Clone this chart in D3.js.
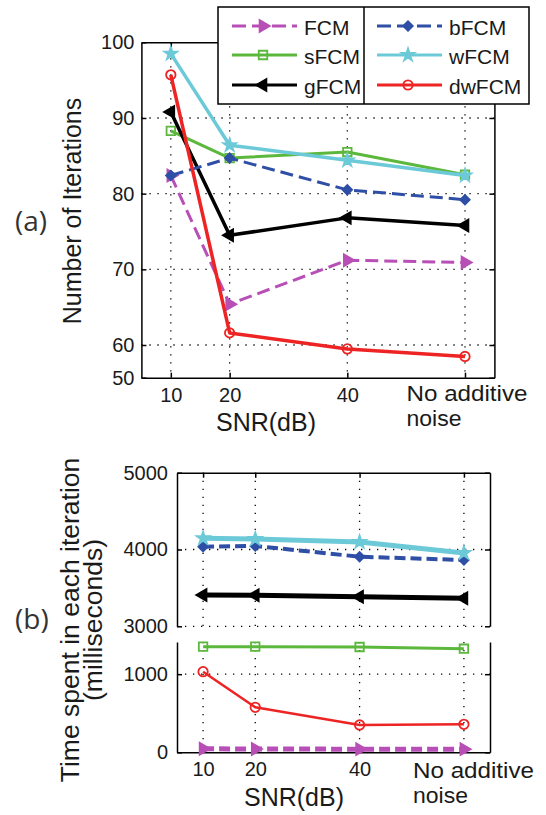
<!DOCTYPE html>
<html>
<head>
<meta charset="utf-8">
<script src="https://cdn.jsdelivr.net/npm/d3@7"></script>
<style>
    body { margin: 0; background: #fff; }
    svg text { font-family: "Liberation Sans", Arial, sans-serif; fill: #1a1a1a; }
    .grid { stroke: #000; stroke-width: 1.3; stroke-dasharray: 1.3 6.7; }
    .ax path, .ax line { stroke: #000; stroke-width: 1.5; }
</style>
</head>
<body>
<svg id="fig" width="546" height="815"></svg>
<script>
// datos
const snrLabels = ["10", "20", "40", "No additive noise"];
const snrPos = [10, 20, 40, 60];          // posición de cada categoría en el eje x
const seriesNames = ["FCM", "sFCM", "gFCM", "bFCM", "wFCM", "dwFCM"];

// (a) número de iteraciones
const iterFCM   = [82.4, 65.4, 71.2, 70.9];
const iterSFCM  = [88.3, 84.7, 85.5, 82.5];
const iterGFCM  = [90.8, 74.5, 76.8, 75.8];
const iterBFCM  = [82.4, 84.7, 80.5, 79.2];
const iterWFCM  = [98.5, 86.4, 84.4, 82.4];
const iterDWFCM = [95.7, 61.6, 58.8, 56.5];
const iterTicks = [50, 60, 70, 80, 90, 100];

// (b) tiempo por iteración (ms)
const timeFCM   = [45, 42, 40, 40];
const timeSFCM  = [1352, 1352, 1348, 1326];
const timeGFCM  = [3408, 3405, 3385, 3365];
const timeBFCM  = [4036, 4046, 3906, 3863];
const timeWFCM  = [4146, 4137, 4098, 3955];
const timeDWFCM = [1032, 576, 350, 358];
const timeTicksTop = [3000, 4000, 5000];
const timeTicksBot = [0, 1000];

// estilos de cada serie (color, trazo, marcador)
const styles = {
    FCM:   { color: "#b84fb6", dash: true,  marker: "triR",    fill: true  },
    sFCM:  { color: "#5cb83c", dash: false, marker: "square",  fill: false },
    gFCM:  { color: "#000000", dash: false, marker: "triL",    fill: true  },
    bFCM:  { color: "#2e4fa5", dash: true,  marker: "diamond", fill: true  },
    wFCM:  { color: "#6ccad8", dash: false, marker: "star",    fill: true  },
    dwFCM: { color: "#ee2424", dash: false, marker: "circle",  fill: false }
};

const svg = d3.select("#fig");

function drawMarker(g, x, y, st) {
    let sym = d3.symbolCircle, size = 70, rot = 0;
    if (st.marker === "triR") { sym = d3.symbolTriangle; size = 60; rot = 90; }
    if (st.marker === "triL") { sym = d3.symbolTriangle; size = 60; rot = -90; }
    if (st.marker === "square") { sym = d3.symbolSquare; size = 72; }
    if (st.marker === "diamond") { sym = d3.symbolSquare; size = 45; rot = 45; }
    if (st.marker === "star") { sym = d3.symbolStar; size = 50; }
    g.append("path")
        .attr("d", d3.symbol(sym, size)())
        .attr("transform", `translate(${x},${y}) rotate(${rot})`)
        .attr("fill", st.fill ? st.color : "none")
        .attr("stroke", st.color)
        .attr("stroke-width", 1.8);
}

function drawSeries(g, values, x, y, st, width, dash) {
    let pts = values.map((v, i) => [x(snrPos[i]), y(v)]);
    g.append("path")
        .attr("d", d3.line()(pts))
        .attr("fill", "none")
        .attr("stroke", st.color)
        .attr("stroke-width", width)
        .attr("stroke-dasharray", st.dash ? dash : null)
        .attr("stroke-linejoin", "round");
    pts.forEach(p => drawMarker(g, p[0], p[1], st));
}

// el eje de d3 pone font-size 10 al llamarlo, así que lo piso después
function axis(parent, tx, ty, ax) {
    let g = parent.append("g").attr("transform", `translate(${tx},${ty})`).call(ax);
    g.classed("ax", true).attr("font-size", 20).attr("font-family", null);
    g.selectAll(".tick text").filter(function () { return this.textContent === ""; }).remove();
    return g;
}

// ---------- panel (a) ----------
const xA = d3.scaleLinear([5, 65], [141.4, 494.4]);
const yA = d3.scaleLinear([50, 60, 100], [377.7, 345, 42.3]);
const gA = svg.append("g");

[60, 70, 80, 90].forEach(v => gA.append("line").classed("grid", true)
    .attr("x1", xA(5)).attr("x2", xA(65)).attr("y1", yA(v)).attr("y2", yA(v)));
snrPos.forEach(v => gA.append("line").classed("grid", true)
    .attr("x1", xA(v)).attr("x2", xA(v)).attr("y1", yA(100)).attr("y2", yA(50)));

axis(gA, xA(5), 0, d3.axisLeft(yA).tickValues(iterTicks).tickFormat(d3.format("d"))
    .tickSizeInner(-5).tickSizeOuter(0).tickPadding(7));
axis(gA, xA(65), 0, d3.axisRight(yA).tickValues(iterTicks).tickFormat("")
    .tickSizeInner(-5).tickSizeOuter(0));
axis(gA, 0, yA(50), d3.axisBottom(xA).tickValues(snrPos).tickFormat((d, i) => i < 3 ? snrLabels[i] : "")
    .tickSizeInner(-5).tickSizeOuter(0).tickPadding(10));
axis(gA, 0, yA(100), d3.axisTop(xA).tickValues(snrPos).tickFormat("")
    .tickSizeInner(-5).tickSizeOuter(0));

const seriesA = [iterFCM, iterSFCM, iterGFCM, iterBFCM, iterWFCM, iterDWFCM];
const widthA = [3, 3, 3.5, 3, 3.5, 3.5];
seriesA.forEach((s, i) => drawSeries(gA, s, xA, yA, styles[seriesNames[i]], widthA[i], "13 6"));

// ---------- panel (b), eje y partido ----------
const xB = d3.scaleLinear([5, 65], [177, 490]);
const yBtop = d3.scaleLinear([3000, 5000], [626.3, 472.7]);
const yBbot = d3.scaleLinear([0, 1412], [752.3, 642]);
const yB = v => v >= 2000 ? yBtop(v) : yBbot(v);
const gB = svg.append("g");

[4000, 3000].forEach(v => gB.append("line").classed("grid", true)
    .attr("x1", xB(5)).attr("x2", xB(65)).attr("y1", yBtop(v)).attr("y2", yBtop(v)));
gB.append("line").classed("grid", true)
    .attr("x1", xB(5)).attr("x2", xB(65)).attr("y1", yBbot(1000)).attr("y2", yBbot(1000));
snrPos.forEach(v => {
    gB.append("line").classed("grid", true)
        .attr("x1", xB(v)).attr("x2", xB(v)).attr("y1", yBtop(5000)).attr("y2", yBtop(3000));
    gB.append("line").classed("grid", true)
        .attr("x1", xB(v)).attr("x2", xB(v)).attr("y1", yBbot(1412)).attr("y2", yBbot(0));
});

[[yBtop, timeTicksTop], [yBbot, timeTicksBot]].forEach(([sc, tv]) => {
    axis(gB, xB(5), 0, d3.axisLeft(sc).tickValues(tv).tickFormat(d3.format("d"))
        .tickSizeInner(-5).tickSizeOuter(0).tickPadding(9));
    axis(gB, xB(65), 0, d3.axisRight(sc).tickValues(tv).tickFormat("")
        .tickSizeInner(-5).tickSizeOuter(0));
});
axis(gB, 0, yBbot(0), d3.axisBottom(xB).tickValues(snrPos).tickFormat((d, i) => i < 3 ? snrLabels[i] : "")
    .tickSizeInner(-5).tickSizeOuter(0).tickPadding(10));
axis(gB, 0, yBtop(5000), d3.axisTop(xB).tickValues(snrPos).tickFormat("")
    .tickSizeInner(-5).tickSizeOuter(0));

const seriesB = [timeFCM, timeSFCM, timeGFCM, timeBFCM, timeWFCM, timeDWFCM];
const widthB = [5, 3, 5, 4, 5, 2.5];
seriesB.forEach((s, i) => drawSeries(gB, s, xB, yB, styles[seriesNames[i]], widthB[i], "11 5"));

// ---------- textos ----------
// última categoría en dos líneas; algo más pequeña y estirada para que no se pisen
function twoLineLabel(x, y1, y2) {
    let words = snrLabels[3].split(" ");
    svg.append("text").attr("x", x).attr("y", y1).attr("font-size", 22.5)
        .attr("textLength", 121).attr("lengthAdjust", "spacingAndGlyphs")
        .text(words[0] + " " + words[1]);
    svg.append("text").attr("x", x).attr("y", y2).attr("font-size", 22.5)
        .attr("textLength", 55).attr("lengthAdjust", "spacingAndGlyphs")
        .text(words[2]);
}
twoLineLabel(406.5, 401, 426.3);
twoLineLabel(413, 777.5, 802.8);

svg.append("text").attr("x", 266).attr("y", 431).attr("font-size", 25)
    .attr("text-anchor", "middle").text("SNR(dB)");
svg.append("text").attr("x", 294).attr("y", 806).attr("font-size", 25)
    .attr("text-anchor", "middle").text("SNR(dB)");

svg.append("text").attr("transform", "translate(81,211) rotate(-90)").attr("font-size", 25)
    .attr("text-anchor", "middle").text("Number of Iterations");
let yl = svg.append("text").attr("transform", "translate(79,620) rotate(-90)").attr("font-size", 26.5)
    .attr("text-anchor", "middle");
yl.append("tspan").attr("x", 0).attr("y", 0).text("Time spent in each iteration");
yl.append("tspan").attr("x", 0).attr("dy", 23).text("(milliseconds)");

svg.append("text").attr("x", 15).attr("y", 231).attr("font-size", 28)
    .style("font-family", "'Open Sans', sans-serif").style("fill", "#333").text("(a)");
svg.append("text").attr("x", 15).attr("y", 629).attr("font-size", 28)
    .style("font-family", "'Open Sans', sans-serif").style("fill", "#333").text("(b)");

// ---------- leyenda ----------
const lg = svg.append("g");
lg.append("rect").attr("x", 218).attr("y", 7).attr("width", 311).attr("height", 97)
    .attr("fill", "#fff").attr("stroke", "#000").attr("stroke-width", 1.5);
lg.append("line").attr("x1", 364).attr("x2", 364).attr("y1", 7).attr("y2", 104)
    .attr("stroke", "#000").attr("stroke-width", 1.5);
const rowY = [26, 55, 85];
seriesNames.forEach((name, i) => {
    let st = styles[name];
    let col = i < 3 ? 0 : 1;
    let y = rowY[i % 3];
    let x0 = col === 0 ? 232 : 377;
    lg.append("line").attr("x1", x0).attr("x2", x0 + 65).attr("y1", y).attr("y2", y)
        .attr("stroke", st.color).attr("stroke-width", 2.8)
        .attr("stroke-dasharray", st.dash ? "14 6" : null);
    drawMarker(lg, x0 + 31, y, st);
    lg.append("text").attr("x", x0 + 72).attr("y", y + 9).attr("font-size", 21).text(name);
});
</script>
</body>
</html>
